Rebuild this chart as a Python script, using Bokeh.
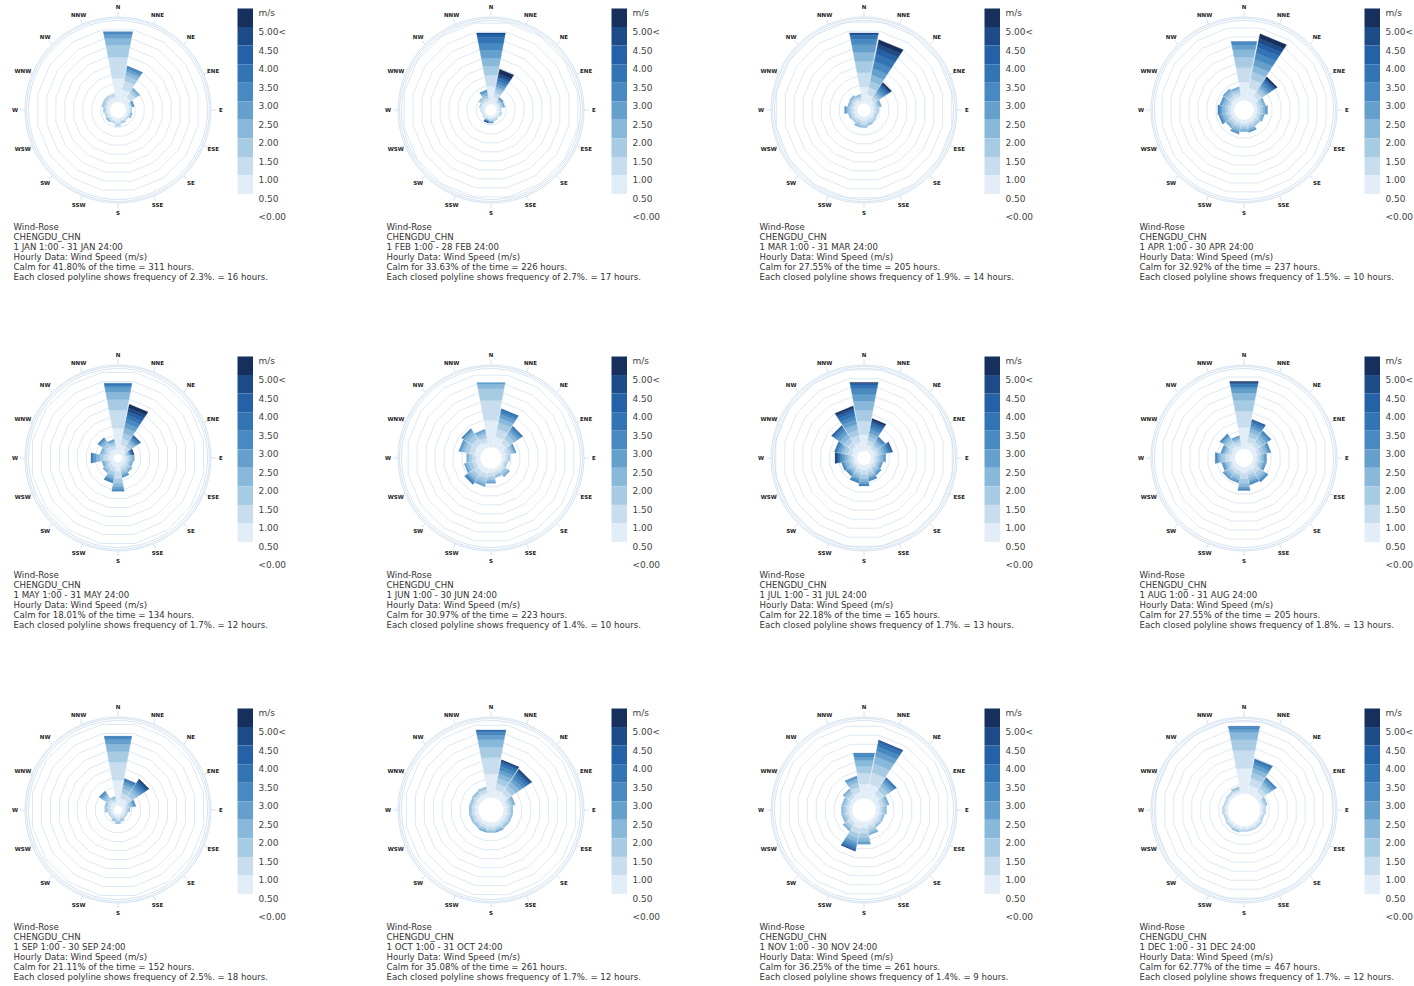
import numpy as np
from bokeh.plotting import figure
from bokeh.models import Range1d
from bokeh.embed import file_html
from bokeh.resources import INLINE
from bokeh.core.properties import value

# ---------------- data ----------------
DIRS = ["N", "NNE", "NE", "ENE", "E", "ESE", "SE", "SSE",
        "S", "SSW", "SW", "WSW", "W", "WNW", "NW", "NNW"]
SPEED_LABELS = ["m/s", "5.00<", "4.50", "4.00", "3.50", "3.00", "2.50",
                "2.00", "1.50", "1.00", "0.50", "<0.00"]
# lightest -> darkest
BIN_COLORS = ["#e2edf7", "#c8ddee", "#a8cbe4", "#88b8da", "#659fcc",
              "#4789c0", "#3274b4", "#2461a7", "#1c4b88", "#172f5c"]

MONTHS = ["JAN", "FEB", "MAR", "APR", "MAY", "JUN",
          "JUL", "AUG", "SEP", "OCT", "NOV", "DEC"]
DAYS = [31, 28, 31, 30, 31, 30, 31, 31, 30, 31, 30, 31]
CALM_PCT = ["41.80", "33.63", "27.55", "32.92", "18.01", "30.97",
            "22.18", "27.55", "21.11", "35.08", "36.25", "62.77"]
CALM_HOURS = [311, 226, 205, 237, 134, 223, 165, 205, 152, 261, 261, 467]
RING_PCT = ["2.3", "2.7", "1.9", "1.5", "1.7", "1.4",
            "1.7", "1.8", "2.5", "1.7", "1.4", "1.7"]
RING_HOURS = [16, 17, 14, 10, 12, 10, 13, 13, 18, 12, 9, 12]
# radius of the calm (empty) centre, in ring units
CALM_RINGS = [0.9, 0.65, 0.75, 1.1, 0.5, 1.2, 0.8, 1.0, 0.5, 1.4, 1.3, 1.8]

# per month, per direction: length (in rings) of each speed bin, inner -> outer
JAN = [[2.6, 2.4, 1.3, 0.8, 0.4, 0.2, 0.1], [1.4, 1.0, 0.6, 0.4, 0.3, 0.2, 0.1],
       [0.8, 0.6, 0.3, 0.2, 0.1], [0.4, 0.2, 0.1, 0.05, 0.05, 0.05, 0.05],
       [0.35, 0.2, 0.05], [0.3, 0.2, 0.1, 0.05, 0.05], [0.3, 0.15, 0.05],
       [0.3, 0.15, 0.1, 0.05], [0.5, 0.3, 0.1], [0.35, 0.2, 0.05],
       [0.3, 0.2, 0.1, 0.05, 0.05], [0.3, 0.2, 0.1], [0.35, 0.2, 0.1, 0.05],
       [0.4, 0.25, 0.15, 0.1], [0.5, 0.3, 0.2], [0.5, 0.3, 0.1]]
FEB = [[2.0, 1.2, 1.0, 0.9, 0.9, 0.8, 0.6, 0.4, 0.1],
       [0.8, 0.5, 0.4, 0.3, 0.3, 0.3, 0.3, 0.2, 0.3, 0.5],
       [0.3, 0.2, 0.2, 0.1, 0.1, 0.1], [0.3, 0.2, 0.2, 0.1, 0.1],
       [0.3, 0.2], [0.3, 0.2, 0.1], [0.3, 0.2], [0.3, 0.2, 0.1],
       [0.3, 0.2, 0.1, 0.1, 0.05, 0.05], [0.3, 0.1, 0.1, 0.05, 0.05, 0.05, 0.05, 0.05, 0.0, 0.05],
       [0.3, 0.2], [0.25, 0.15], [0.3, 0.2], [0.4, 0.2, 0.1],
       [0.4, 0.3, 0.2, 0.1], [0.4, 0.3, 0.3, 0.3, 0.2, 0.1]]
MAR = [[1.8, 1.6, 1.3, 1.0, 0.8, 0.6, 0.4, 0.2, 0.1],
       [1.0, 0.8, 0.7, 0.7, 0.7, 0.8, 0.8, 0.6, 0.5, 0.5],
       [0.6, 0.4, 0.3, 0.3, 0.3, 0.3, 0.2, 0.2, 0.1, 0.2],
       [0.4, 0.3, 0.2, 0.2, 0.1], [0.4, 0.3, 0.2], [0.4, 0.2, 0.2],
       [0.4, 0.3, 0.2], [0.4, 0.3, 0.2, 0.1], [0.5, 0.4, 0.2, 0.1],
       [0.4, 0.3, 0.3, 0.2], [0.4, 0.3, 0.2], [0.4, 0.3, 0.2, 0.1],
       [0.4, 0.3, 0.3, 0.2, 0.1, 0.1], [0.4, 0.3, 0.2, 0.2],
       [0.5, 0.3, 0.2, 0.2], [0.4, 0.3, 0.2, 0.1]]
APR = [[2.0, 1.6, 1.2, 0.8, 0.5, 0.3, 0.1],
       [1.4, 1.0, 0.8, 0.7, 0.7, 0.7, 0.6, 0.5, 0.5, 0.5],
       [0.8, 0.5, 0.4, 0.3, 0.3, 0.3, 0.2, 0.2, 0.1, 0.2],
       [0.4, 0.3, 0.3, 0.2, 0.1], [0.4, 0.3, 0.3, 0.2, 0.2, 0.1],
       [0.4, 0.3, 0.2, 0.2, 0.1], [0.4, 0.3, 0.2, 0.1],
       [0.4, 0.3, 0.3, 0.2, 0.1, 0.1], [0.4, 0.3, 0.3, 0.2, 0.1],
       [0.4, 0.3, 0.3, 0.3, 0.2, 0.1], [0.4, 0.3, 0.3, 0.2, 0.1],
       [0.4, 0.3, 0.3, 0.3, 0.2, 0.1, 0.1], [0.4, 0.3, 0.3, 0.3, 0.2, 0.2, 0.1],
       [0.4, 0.3, 0.3, 0.3, 0.2, 0.1], [0.5, 0.4, 0.3, 0.3, 0.2],
       [0.5, 0.4, 0.3, 0.2, 0.1]]
MAY = [[2.8, 2.0, 1.2, 0.8, 0.5, 0.3, 0.2],
       [1.0, 0.7, 0.6, 0.6, 0.5, 0.5, 0.4, 0.4, 0.4, 0.4],
       [0.6, 0.5, 0.4, 0.3, 0.2, 0.2, 0.1, 0.1, 0.1],
       [0.3, 0.2, 0.2, 0.1, 0.1, 0.1, 0.1, 0.1, 0.05, 0.05],
       [0.4, 0.3, 0.3, 0.2, 0.1], [0.4, 0.3, 0.2, 0.2, 0.1],
       [0.4, 0.4, 0.3, 0.2, 0.1], [0.5, 0.4, 0.3, 0.2, 0.2, 0.1],
       [1.0, 0.8, 0.5, 0.4, 0.3, 0.2], [0.6, 0.5, 0.4, 0.3, 0.2, 0.2, 0.1],
       [0.5, 0.4, 0.3, 0.2, 0.1], [0.4, 0.3, 0.3, 0.2, 0.1],
       [0.6, 0.5, 0.4, 0.4, 0.3, 0.2, 0.1], [0.5, 0.4, 0.3, 0.2, 0.1],
       [0.6, 0.5, 0.4, 0.3, 0.2, 0.2], [0.5, 0.4, 0.3, 0.2, 0.2]]
JUN = [[3.0, 2.2, 1.3, 0.5, 0.2], [1.2, 0.9, 0.7, 0.5, 0.4, 0.3, 0.2, 0.1],
       [0.8, 0.6, 0.5, 0.4, 0.3, 0.2, 0.1, 0.1], [0.5, 0.4, 0.3, 0.2, 0.1, 0.1],
       [0.4, 0.3, 0.2], [0.3, 0.2, 0.2], [0.4, 0.3, 0.3, 0.2, 0.1],
       [0.4, 0.3, 0.2, 0.1], [0.5, 0.4, 0.3, 0.2, 0.2], [0.6, 0.5, 0.4, 0.3, 0.2],
       [0.6, 0.5, 0.4, 0.3, 0.2, 0.2, 0.1], [0.5, 0.4, 0.4, 0.3, 0.2],
       [0.5, 0.4, 0.3, 0.2, 0.1], [0.7, 0.6, 0.5, 0.3, 0.2, 0.1],
       [0.8, 0.6, 0.5, 0.4, 0.2, 0.2], [0.6, 0.5, 0.4, 0.3, 0.2]]
JUL = [[1.8, 1.5, 1.2, 1.0, 0.8, 0.6, 0.4, 0.2, 0.0, 0.1],
       [0.7, 0.5, 0.4, 0.4, 0.4, 0.3, 0.3, 0.2, 0.2, 0.2],
       [0.5, 0.4, 0.3, 0.3, 0.2, 0.2, 0.1],
       [0.5, 0.4, 0.3, 0.3, 0.3, 0.2, 0.2, 0.1, 0.1],
       [0.4, 0.3, 0.3, 0.3, 0.2, 0.1], [0.4, 0.3, 0.2, 0.2, 0.1, 0.1],
       [0.4, 0.3, 0.3, 0.2, 0.2, 0.1], [0.5, 0.4, 0.3, 0.2, 0.2, 0.1, 0.1],
       [0.6, 0.5, 0.4, 0.3, 0.3, 0.2], [0.5, 0.4, 0.3, 0.3, 0.2, 0.2, 0.1],
       [0.4, 0.3, 0.3, 0.2, 0.2, 0.1, 0.1], [0.4, 0.3, 0.3, 0.3, 0.2, 0.1, 0.1],
       [0.4, 0.3, 0.3, 0.3, 0.3, 0.2, 0.2, 0.2, 0.1, 0.1],
       [0.6, 0.5, 0.4, 0.3, 0.3, 0.2, 0.2],
       [0.8, 0.6, 0.5, 0.5, 0.4, 0.3, 0.2, 0.1, 0.1],
       [1.0, 0.8, 0.6, 0.6, 0.5, 0.4, 0.4, 0.3, 0.2, 0.2]]
AUG = [[2.4, 1.8, 1.2, 0.8, 0.5, 0.3, 0.2, 0.1, 0.1, 0.1],
       [0.8, 0.6, 0.5, 0.4, 0.3, 0.3, 0.2, 0.1, 0.1],
       [0.7, 0.5, 0.4, 0.4, 0.3, 0.2, 0.1], [0.5, 0.4, 0.4, 0.3, 0.2, 0.2],
       [0.4, 0.3, 0.3, 0.2, 0.2, 0.1], [0.4, 0.3, 0.3, 0.2, 0.2, 0.1],
       [0.6, 0.5, 0.4, 0.3, 0.2, 0.2], [0.5, 0.4, 0.4, 0.3, 0.2, 0.2],
       [0.7, 0.6, 0.5, 0.4, 0.2, 0.2], [0.5, 0.4, 0.3, 0.3, 0.2, 0.1],
       [0.5, 0.4, 0.3, 0.3, 0.2, 0.1], [0.4, 0.3, 0.3, 0.2, 0.2, 0.1],
       [0.6, 0.5, 0.4, 0.3, 0.2, 0.2], [0.4, 0.4, 0.3, 0.2, 0.2, 0.1],
       [0.6, 0.5, 0.4, 0.3, 0.2, 0.2], [0.4, 0.4, 0.3, 0.2, 0.2]]
SEP = [[2.8, 2.0, 1.2, 0.8, 0.5, 0.3, 0.1],
       [0.8, 0.6, 0.5, 0.4, 0.3, 0.2, 0.1, 0.1],
       [0.8, 0.6, 0.5, 0.4, 0.3, 0.3, 0.2, 0.2, 0.2, 0.1],
       [0.4, 0.3, 0.3, 0.2, 0.2, 0.1], [0.3, 0.2, 0.2, 0.1],
       [0.3, 0.2, 0.1], [0.3, 0.2, 0.1], [0.3, 0.2, 0.2, 0.1],
       [0.4, 0.3, 0.2, 0.1], [0.3, 0.2, 0.2, 0.1], [0.3, 0.2, 0.1],
       [0.3, 0.2, 0.1], [0.3, 0.3, 0.2, 0.1], [0.4, 0.3, 0.2, 0.1],
       [0.5, 0.4, 0.4, 0.3, 0.2, 0.2], [0.4, 0.3, 0.2, 0.1]]
OCT = [[2.6, 1.8, 1.2, 0.8, 0.5, 0.3, 0.2, 0.1],
       [0.9, 0.7, 0.6, 0.5, 0.4, 0.4, 0.3, 0.2, 0.1, 0.1],
       [0.8, 0.6, 0.5, 0.5, 0.4, 0.4, 0.3, 0.2, 0.2, 0.1],
       [0.4, 0.3, 0.3, 0.2, 0.1], [0.4, 0.3, 0.2, 0.1], [0.4, 0.3, 0.2, 0.1],
       [0.4, 0.3, 0.2, 0.1], [0.4, 0.3, 0.2, 0.1, 0.1], [0.5, 0.3, 0.2, 0.1],
       [0.4, 0.3, 0.2, 0.1, 0.1], [0.4, 0.3, 0.2, 0.1], [0.4, 0.3, 0.2, 0.1],
       [0.4, 0.3, 0.2, 0.1], [0.4, 0.3, 0.2, 0.1], [0.5, 0.3, 0.2, 0.1],
       [0.5, 0.4, 0.2, 0.1]]
NOV = [[1.6, 1.2, 0.8, 0.6, 0.4, 0.3, 0.1],
       [1.6, 1.3, 1.0, 0.8, 0.6, 0.5, 0.4, 0.2, 0.1],
       [0.8, 0.6, 0.5, 0.4, 0.3, 0.2, 0.2], [0.5, 0.4, 0.3, 0.2, 0.1],
       [0.4, 0.3, 0.3, 0.2], [0.4, 0.3, 0.2, 0.1], [0.4, 0.3, 0.2, 0.1],
       [0.5, 0.4, 0.3, 0.2, 0.1], [0.7, 0.6, 0.5, 0.4, 0.3],
       [0.8, 0.6, 0.5, 0.4, 0.3, 0.3, 0.2, 0.1, 0.1],
       [0.5, 0.4, 0.3, 0.2, 0.1], [0.4, 0.3, 0.3, 0.2], [0.4, 0.3, 0.3, 0.2],
       [0.4, 0.3, 0.3, 0.2], [0.5, 0.4, 0.3, 0.2, 0.1],
       [0.7, 0.6, 0.5, 0.4, 0.2, 0.1]]
DEC = [[2.8, 2.0, 1.2, 0.8, 0.4, 0.2, 0.1],
       [1.0, 0.8, 0.6, 0.5, 0.4, 0.3, 0.2, 0.1],
       [0.7, 0.5, 0.4, 0.3, 0.3, 0.2, 0.1], [0.3, 0.2, 0.2, 0.1],
       [0.3, 0.2, 0.1], [0.2, 0.2, 0.1], [0.3, 0.2, 0.1], [0.3, 0.2, 0.1],
       [0.3, 0.2, 0.1], [0.3, 0.2, 0.1, 0.1], [0.3, 0.2, 0.1], [0.2, 0.2, 0.1],
       [0.3, 0.2, 0.1], [0.2, 0.2, 0.1], [0.3, 0.2, 0.1], [0.3, 0.2, 0.2, 0.1]]
ROSES = [JAN, FEB, MAR, APR, MAY, JUN, JUL, AUG, SEP, OCT, NOV, DEC]

# ---------------- layout ----------------
W, H = 1414, 986
COL_X = [0, 373, 746, 1126]
ROW_Y = [0, 348, 700]
CX0, CY0 = 117.5, 109.5
SPACING = 9.0          # px per ring
R_LAST = 88.0
HALF = np.radians(10.6)
SEC = np.radians(11.25)

p = figure(width=W, height=H, x_range=Range1d(0, W), y_range=Range1d(H, 0),
           output_backend="svg", toolbar_location=None, min_border=0,
           x_axis_location=None, y_axis_location=None)
p.grid.visible = False
p.outline_line_color = None
p.background_fill_color = "white"

ring_xs, ring_ys = [], []
circ_x, circ_y, circ_r = [], [], []
tick_xs, tick_ys = [], []
lab_x, lab_y, lab_t = [], [], []
px, py, pc = [], [], []
leg_l, leg_r, leg_t, leg_b, leg_c = [], [], [], [], []
lt_x, lt_y, lt_t = [], [], []
tx, ty, tt = [], [], []

angles = np.radians(np.arange(16) * 22.5)

for m in range(12):
    col, row = m % 4, m // 4
    ox, oy = COL_X[col], ROW_Y[row]
    cx, cy = CX0 + ox, CY0 + oy
    hole = CALM_RINGS[m] * SPACING

    # rings (closed 16-gons)
    k = 1
    while hole + k * SPACING <= R_LAST + 0.5:
        r = (hole + k * SPACING) / np.cos(SEC)
        a = np.append(angles + SEC, angles[0] + SEC)
        ring_xs.append(list(cx + r * np.sin(a)))
        ring_ys.append(list(cy - r * np.cos(a)))
        k += 1
    for rr in (89.5, 91.5, 93.0):
        circ_x.append(cx); circ_y.append(cy); circ_r.append(rr)
    for i, th in enumerate(angles):
        tick_xs.append([cx + 93 * np.sin(th), cx + 98 * np.sin(th)])
        tick_ys.append([cy - 93 * np.cos(th), cy - 98 * np.cos(th)])
        lab_x.append(cx + 103 * np.sin(th)); lab_y.append(cy - 103 * np.cos(th))
        lab_t.append(DIRS[i])

    # wedges
    tan_h = np.tan(HALF)
    for i, th in enumerate(angles):
        ux, uy = np.sin(th), -np.cos(th)
        vx, vy = np.cos(th), np.sin(th)
        r1 = hole
        for b, length in enumerate(ROSES[m][i]):
            if length <= 0:
                continue
            r2 = r1 + length * SPACING
            pts = [(r1, -1), (r2, -1), (r2, 1), (r1, 1)]
            px.append([cx + r * ux + s * r * tan_h * vx for r, s in pts])
            py.append([cy + r * uy + s * r * tan_h * vy for r, s in pts])
            pc.append(BIN_COLORS[b])
            r1 = r2

    # legend
    lx, ly = 237 + ox + (1 if col > 0 else 0), 8 + oy
    bh = 18.55
    for j in range(10):
        leg_l.append(lx); leg_r.append(lx + 15.5)
        leg_t.append(ly + j * bh); leg_b.append(ly + (j + 1) * bh)
        leg_c.append(BIN_COLORS[9 - j])
    for j, s in enumerate(SPEED_LABELS):
        lt_x.append(lx + 21); lt_y.append(ly + 4.5 + j * bh); lt_t.append(s)

    # text block
    mon = MONTHS[m]
    lines = ["Wind-Rose", "CHENGDU_CHN",
             f"1 {mon} 1:00 - {DAYS[m]} {mon} 24:00",
             "Hourly Data: Wind Speed (m/s)",
             f"Calm for {CALM_PCT[m]}% of the time = {CALM_HOURS[m]} hours.",
             f"Each closed polyline shows frequency of {RING_PCT[m]}%. = {RING_HOURS[m]} hours."]
    for j, s in enumerate(lines):
        tx.append(13 + ox); ty.append(226 + oy + j * 10); tt.append(s)

p.multi_line(ring_xs, ring_ys, line_color="#d3e2f0", line_width=0.8)
p.circle(x=circ_x, y=circ_y, radius=circ_r, fill_color=None, line_color="#cadcee", line_width=0.8)
p.multi_line(tick_xs, tick_ys, line_color="#c6d9ec", line_width=0.8)
p.patches(px, py, fill_color=pc, line_color=pc, line_width=0.3)
p.text(lab_x, lab_y, text=lab_t, text_font=value("DejaVu Sans"), text_font_size="5.5px",
       text_font_style="bold", text_color="#222222", text_align="center", text_baseline="middle")
p.quad(left=leg_l, right=leg_r, top=leg_t, bottom=leg_b, fill_color=leg_c, line_color=None)
p.text(lt_x, lt_y, text=lt_t, text_font=value("DejaVu Sans"), text_font_size="9px",
       text_color="#444444", text_align="left", text_baseline="middle")
p.text(tx, ty, text=tt, text_font=value("DejaVu Sans"), text_font_size="8.6px",
       text_color="#333333", text_align="left", text_baseline="middle")

open("out.html", "w").write(file_html(p, INLINE))
